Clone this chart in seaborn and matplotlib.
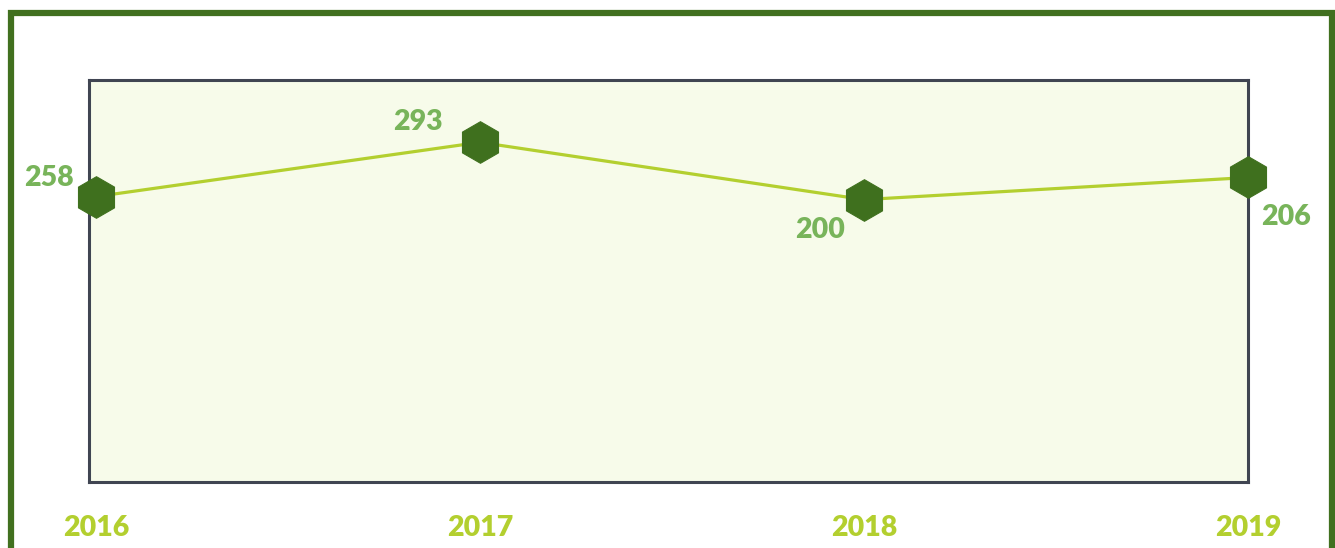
import matplotlib
matplotlib.use("Agg")
import matplotlib.pyplot as plt
import seaborn as sns
import pandas as pd
from matplotlib.patches import Rectangle

years = ["2016", "2017", "2018", "2019"]
values = [258, 293, 200, 206]          # printed data labels
levels = [284, 338, 281, 303]          # vertical position of each point as drawn (axis 0-400)

df = pd.DataFrame({"x": range(len(years)), "level": levels})

sns.set_theme(style="white")
plt.rcParams["font.family"] = ["Lato", "DejaVu Sans"]

fig = plt.figure(figsize=(13.35, 5.48), dpi=100)
ax = fig.add_axes([0.0667, 0.1204, 0.868, 0.7336])
ax.set_facecolor("#f7fbea")

sns.lineplot(data=df, x="x", y="level", ax=ax, color="#b3cf2f", linewidth=2.3,
             marker="h", markersize=30, markerfacecolor="#3f701e",
             markeredgecolor="#3f701e", clip_on=False, zorder=3)

ax.set_xlim(-0.018, 2.992)
ax.set_ylim(0, 400)
ax.set_yticks([])
ax.set_xticks(range(len(years)))
ax.set_xticklabels(years, fontsize=20.5, fontweight="heavy", color="#b3cf2f")
ax.tick_params(axis="x", length=0, pad=24)
ax.set_xlabel("")
ax.set_ylabel("")
for s in ax.spines.values():
    s.set_visible(True)
    s.set_color("#404552")
    s.set_linewidth(2.2)

# data labels
offsets = [(-47, 19), (-62, 20), (-44, -30), (38, -40)]
for i, (v, lv) in enumerate(zip(values, levels)):
    dx, dy = offsets[i]
    ax.annotate(str(v), xy=(i, lv), xytext=(dx, dy), textcoords="offset pixels",
                ha="center", va="center", fontsize=20.5, fontweight="heavy",
                color="#78b45a", annotation_clip=False)

# outer frame
fig.patches.append(Rectangle((11 / 1335, 1 - 550 / 548), 1321 / 1335, 537 / 548,
                             transform=fig.transFigure, fill=False,
                             edgecolor="#41701f", linewidth=4.5))

fig.savefig("out.png", dpi=100)
